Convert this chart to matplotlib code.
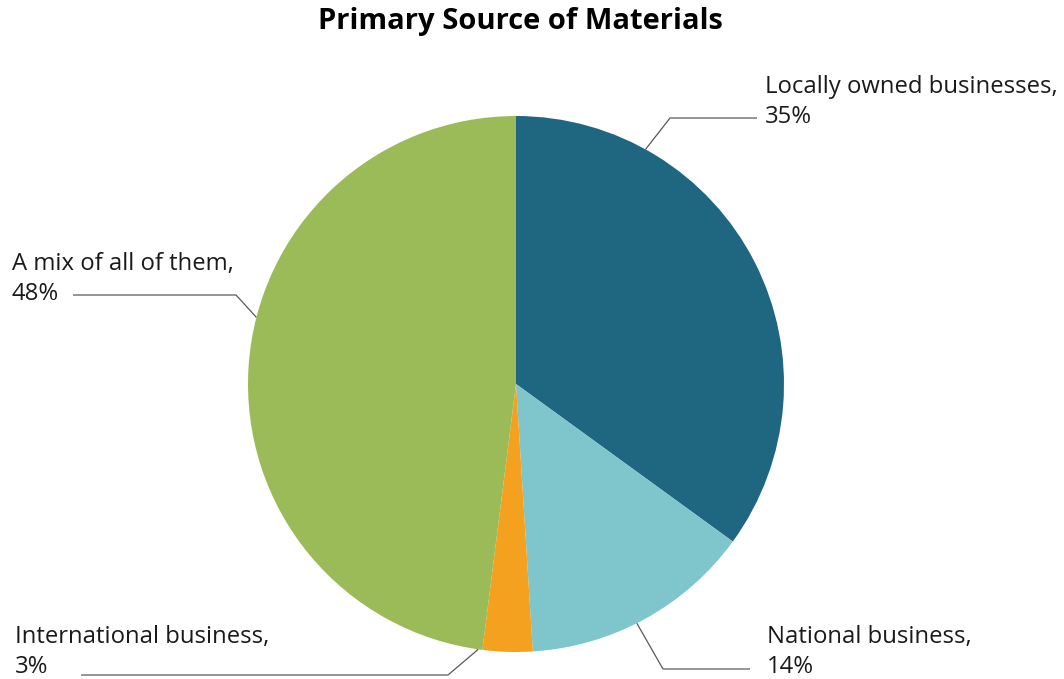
import matplotlib.pyplot as plt
import numpy as np

plt.rcParams['font.family'] = ['Open Sans', 'DejaVu Sans']

# Survey shares by source
sources = ['Locally owned businesses', 'National business', 'International business', 'A mix of all of them']
shares = [35, 14, 3, 48]
colors = ['#1f6680', '#7fc6cc', '#f4a11f', '#9bbb59']

W, H = 1064, 679
fig = plt.figure(figsize=(W / 100, H / 100), dpi=100)
ax = fig.add_axes([0, 0, 1, 1])

cx, cy, r = 516, H - 384, 268
ax.pie(shares, colors=colors, startangle=90, counterclock=False,
       center=(cx, cy), radius=r, frame=True,
       wedgeprops=dict(linewidth=0))
ax.set_xlim(0, W)
ax.set_ylim(0, H)
ax.set_aspect('equal')
ax.axis('off')

# label placement: angle where the leader meets the pie, elbow point, line end, text anchor
label_layout = [
    (61.1, (670, 118), 757, (765, 102)),
    (-63.2, (663, 669), 750, (767, 652)),
    (261.9, (448, 675), 81, (15, 652)),
    (165.6, (236, 295), 73, (12, 279)),
]

for name, val, (ang, elbow, xend, txt) in zip(sources, shares, label_layout):
    a = np.deg2rad(ang)
    x0, y0 = cx + r * np.cos(a), cy + r * np.sin(a)
    ex, ey = elbow[0], H - elbow[1]
    ax.plot([x0, ex, xend], [y0, ey, ey], color='#595959', lw=0.9, solid_capstyle='butt')
    ax.text(txt[0], H - txt[1], f'{name},\n{val}%', ha='left', va='center',
            fontsize=17.2, color='#1a1a1a', linespacing=1.3)

ax.text(520, H - 22, 'Primary Source of Materials', ha='center', va='center',
        fontsize=21, fontweight='bold', color='#000000')

fig.savefig('out.png', dpi=100)
